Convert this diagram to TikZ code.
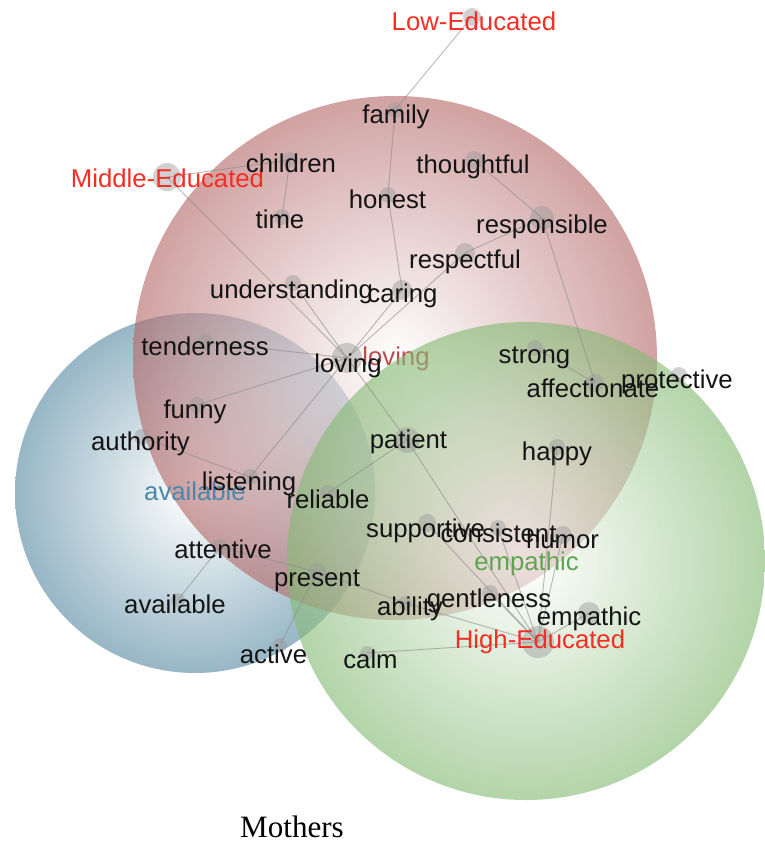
\documentclass[tikz,border=0pt]{standalone}
\usepackage{fontspec}
\setmainfont{Liberation Sans}
\newfontfamily\captionfont{Liberation Serif}
\definecolor{lovingred}{RGB}{180,105,105}
\definecolor{availblue}{RGB}{88,138,163}
\definecolor{empathgreen}{RGB}{132,186,116}
\definecolor{edured}{RGB}{245,45,35}
\definecolor{lovingtext}{RGB}{190,75,75}
\definecolor{availtext}{RGB}{75,135,170}
\definecolor{empathtext}{RGB}{95,165,80}
\tikzset{every picture/.style={line width=0.75pt}}

\begin{document}
\begin{tikzpicture}[x=0.75pt,y=0.75pt,yscale=-1,xscale=1,
  venn/.style={fill opacity=0.62},
  dot/.style={circle,fill=black!40,fill opacity=0.45,inner sep=0pt,minimum size=1.5pt*#1},
  dot/.default=8,
  word/.style={anchor=base,inner sep=0pt,text=black!92,font=\fontsize{19.3}{21}\selectfont},
  group/.style={word,text=edured},
  link/.style={draw=black!45,draw opacity=0.6,line width=0.7pt}]
%set diagram to the size of the reference
\useasboundingbox (0,0) rectangle (764,846);

%Shape: Circle (available)
\shade[venn,inner color=white,outer color=availblue] (195,493) circle (180);
%Shape: Circle (loving)
\shade[venn,inner color=white,outer color=lovingred] (395,358) circle (262);
% Text Node
\node[word,text=availtext] (availcat) at (195,500) {available};
% Text Node
\node[word,text=lovingtext] (lovingcat) at (396,365) {loving};
%Shape: Circle (empathic)
\shade[venn,inner color=white,outer color=empathgreen] (526,561) circle (239);
% Text Node
\node[word,text=empathtext] (empathcat) at (526.5,570) {empathic};

%Shape: Dots
\node[dot=9] (lowedu) at (472,17) {};
\node[dot] (family) at (395,110) {};
\node[dot] (children) at (290,160) {};
\node[dot=14] (midedu) at (167,177) {};
\node[dot] (time) at (282,217) {};
\node[dot] (honest) at (388,195) {};
\node[dot=9] (thoughtful) at (474,160) {};
\node[dot=12] (responsible) at (542,218) {};
\node[dot=10] (respectful) at (465,253) {};
\node[dot] (understanding) at (293,283) {};
\node[dot=10] (caring) at (402,290) {};
\node[dot=15] (loving) at (347,358) {};
\node[dot] (tenderness) at (205,342) {};
\node[dot] (funny) at (197,405) {};
\node[dot] (authority) at (142,437) {};
\node[dot] (listening) at (250,477) {};
\node[dot] (reliable) at (328,493) {};
\node[dot=13] (patient) at (407,440) {};
\node[dot] (attentive) at (220,547) {};
\node[dot=9] (present) at (317,572) {};
\node[dot=7] (available) at (178,600) {};
\node[dot=7] (active) at (280,645) {};
\node[dot=7] (ability) at (405,603) {};
\node[dot=7] (calm) at (367,653) {};
\node[dot] (gentleness) at (490,593) {};
\node[dot=16] (highedu) at (538,642) {};
\node[dot=11] (empathic) at (589,613) {};
\node[dot=9] (supportive) at (427,523) {};
\node[dot] (consistent) at (498,528) {};
\node[dot=9] (humor) at (563,535) {};
\node[dot] (happy) at (557,447) {};
\node[dot] (strong) at (535,348) {};
\node[dot=9] (affectionate) at (595,383) {};
\node[dot] (protective) at (679,375) {};

%Straight Lines
\draw[link] (lowedu.center) -- (family.center);
\draw[link] (family.center) -- (honest.center);
\draw[link] (honest.center) -- (caring.center);
\draw[link] (midedu.center) -- (children.center);
\draw[link] (children.center) -- (time.center);
\draw[link] (midedu.center) -- (loving.center);
\draw[link] (understanding.center) -- (loving.center);
\draw[link] (caring.center) -- (loving.center);
\draw[link] (respectful.center) -- (loving.center);
\draw[link] (respectful.center) -- (responsible.center);
\draw[link] (thoughtful.center) -- (responsible.center);
\draw[link] (responsible.center) -- (affectionate.center);
\draw[link] (strong.center) -- (affectionate.center);
\draw[link] (tenderness.center) -- (loving.center);
\draw[link] (funny.center) -- (loving.center);
\draw[link] (listening.center) -- (loving.center);
\draw[link] (authority.center) -- (listening.center);
\draw[link] (loving.center) -- (patient.center);
\draw[link] (reliable.center) -- (patient.center);
\draw[link] (patient.center) -- (highedu.center);
\draw[link] (supportive.center) -- (highedu.center);
\draw[link] (consistent.center) -- (highedu.center);
\draw[link] (humor.center) -- (highedu.center);
\draw[link] (happy.center) -- (highedu.center);
\draw[link] (gentleness.center) -- (highedu.center);
\draw[link] (calm.center) -- (highedu.center);
\draw[link] (present.center) -- (ability.center);
\draw[link] (ability.center) -- (highedu.center);
\draw[link] (empathic.center) -- (highedu.center);
\draw[link] (attentive.center) -- (present.center);
\draw[link] (attentive.center) -- (available.center);
\draw[link] (present.center) -- (active.center);

% Text Node
\node[group] (lowedutxt) at (474,31) {Low-Educated};
\node[group] (midedutxt) at (167.5,187) {Middle-Educated};
\node[group] (highedutxt) at (540,648) {High-Educated};
% Text Node
\node[word] (familytxt) at (396,123) {family};
\node[word] (childrentxt) at (291,172) {children};
\node[word] (timetxt) at (280,228) {time};
\node[word] (honesttxt) at (387.5,208) {honest};
\node[word] (thoughtfultxt) at (473,173) {thoughtful};
\node[word] (responsibletxt) at (542,233) {responsible};
\node[word] (respectfultxt) at (465,268) {respectful};
\node[word] (understandingtxt) at (291.5,298) {understanding};
\node[word] (caringtxt) at (402.5,302) {caring};
\node[word] (lovingtxt) at (348,372) {loving};
\node[word] (tendernesstxt) at (205,355) {tenderness};
\node[word] (funnytxt) at (195,418) {funny};
\node[word] (authoritytxt) at (140.5,450) {authority};
\node[word] (listeningtxt) at (249,490) {listening};
\node[word] (reliabletxt) at (328,508) {reliable};
\node[word] (attentivetxt) at (223,558) {attentive};
\node[word] (presenttxt) at (317,586) {present};
\node[word] (availabletxt) at (175,613) {available};
\node[word] (activetxt) at (273.5,663) {active};
\node[word] (calmtxt) at (370.5,668) {calm};
\node[word] (abilitytxt) at (410,615) {ability};
\node[word] (gentlenesstxt) at (489,607) {gentleness};
\node[word] (empathictxt) at (589,625) {empathic};
\node[word] (supportivetxt) at (425.5,537) {supportive};
\node[word] (consistenttxt) at (498.5,542) {consistent};
\node[word] (humortxt) at (562.5,548) {humor};
\node[word] (happytxt) at (557,460) {happy};
\node[word] (patienttxt) at (408.5,448) {patient};
\node[word] (strongtxt) at (534.5,363) {strong};
\node[word] (affectionatetxt) at (593,397) {affectionate};
\node[word] (protectivetxt) at (677,388) {protective};
% Text Node
\node[anchor=base,inner sep=0pt,font=\captionfont\fontsize{23.3}{26}\selectfont] (caption) at (292,837) {Mothers};

\end{tikzpicture}
\end{document}
